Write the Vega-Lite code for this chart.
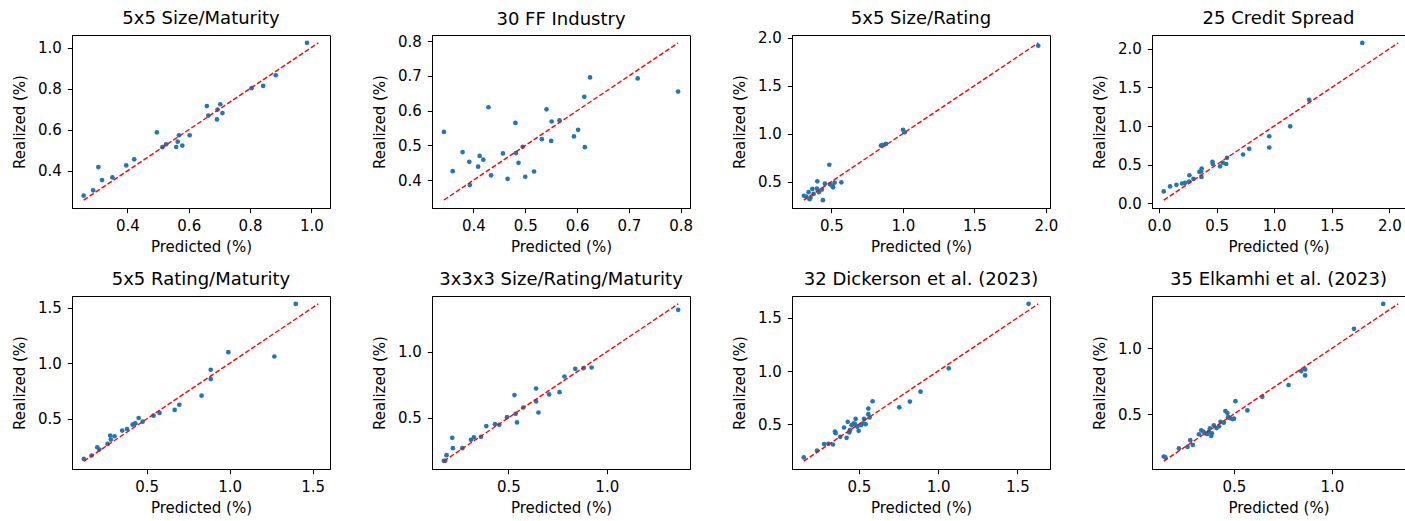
{
  "$schema": "https://vega.github.io/schema/vega-lite/v6.json",
  "background": "white",
  "padding": {"left": 11, "top": 9, "right": 0, "bottom": 0},
  "bounds": "flush",
  "columns": 4,
  "spacing": {"row": 88, "column": 102},
  "config": {
    "font": "DejaVu Sans",
    "view": {"stroke": "black", "strokeWidth": 1},
    "axis": {
      "grid": false,
      "domainColor": "black",
      "domainWidth": 1,
      "tickColor": "black",
      "tickWidth": 1,
      "tickSize": 4.7,
      "labelFont": "DejaVu Sans",
      "labelFontSize": 15,
      "labelColor": "black",
      "titleFont": "DejaVu Sans",
      "titleFontSize": 15,
      "titleFontWeight": "normal",
      "titleColor": "black",
      "format": ".1f"
    },
    "axisX": {"labelPadding": 5.5, "titlePadding": 6},
    "axisY": {"labelPadding": 6, "titlePadding": 10},
    "title": {"font": "DejaVu Sans", "fontSize": 18, "fontWeight": "normal", "color": "black", "offset": 7, "anchor": "middle", "frame": "group"}
  },
  "datasets": {
    "p1": [
      {"pred": 0.257, "real": 0.279}, {"pred": 0.288, "real": 0.305}, {"pred": 0.305, "real": 0.418},
      {"pred": 0.317, "real": 0.355}, {"pred": 0.351, "real": 0.368}, {"pred": 0.396, "real": 0.426},
      {"pred": 0.422, "real": 0.456}, {"pred": 0.496, "real": 0.587}, {"pred": 0.514, "real": 0.515},
      {"pred": 0.526, "real": 0.529}, {"pred": 0.559, "real": 0.516}, {"pred": 0.564, "real": 0.542},
      {"pred": 0.568, "real": 0.573}, {"pred": 0.579, "real": 0.523}, {"pred": 0.603, "real": 0.573},
      {"pred": 0.659, "real": 0.715}, {"pred": 0.664, "real": 0.669}, {"pred": 0.692, "real": 0.650},
      {"pred": 0.694, "real": 0.698}, {"pred": 0.703, "real": 0.724}, {"pred": 0.710, "real": 0.681},
      {"pred": 0.805, "real": 0.802}, {"pred": 0.843, "real": 0.813}, {"pred": 0.884, "real": 0.865},
      {"pred": 0.986, "real": 1.023}
    ],
    "p2": [
      {"pred": 0.343, "real": 0.539}, {"pred": 0.360, "real": 0.426}, {"pred": 0.379, "real": 0.481},
      {"pred": 0.392, "real": 0.453}, {"pred": 0.393, "real": 0.386}, {"pred": 0.409, "real": 0.439},
      {"pred": 0.412, "real": 0.470}, {"pred": 0.419, "real": 0.459}, {"pred": 0.429, "real": 0.610},
      {"pred": 0.434, "real": 0.414}, {"pred": 0.457, "real": 0.477}, {"pred": 0.466, "real": 0.404},
      {"pred": 0.481, "real": 0.565}, {"pred": 0.482, "real": 0.478}, {"pred": 0.487, "real": 0.450},
      {"pred": 0.495, "real": 0.496}, {"pred": 0.500, "real": 0.410}, {"pred": 0.517, "real": 0.425},
      {"pred": 0.532, "real": 0.518}, {"pred": 0.541, "real": 0.604}, {"pred": 0.550, "real": 0.513},
      {"pred": 0.551, "real": 0.569}, {"pred": 0.566, "real": 0.572}, {"pred": 0.594, "real": 0.526},
      {"pred": 0.602, "real": 0.545}, {"pred": 0.614, "real": 0.640}, {"pred": 0.615, "real": 0.495},
      {"pred": 0.625, "real": 0.696}, {"pred": 0.717, "real": 0.693}, {"pred": 0.795, "real": 0.655}
    ],
    "p3": [
      {"pred": 0.308, "real": 0.352}, {"pred": 0.324, "real": 0.345}, {"pred": 0.341, "real": 0.390},
      {"pred": 0.348, "real": 0.317}, {"pred": 0.355, "real": 0.334}, {"pred": 0.367, "real": 0.424},
      {"pred": 0.376, "real": 0.372}, {"pred": 0.399, "real": 0.428}, {"pred": 0.402, "real": 0.503},
      {"pred": 0.413, "real": 0.390}, {"pred": 0.434, "real": 0.417}, {"pred": 0.441, "real": 0.307},
      {"pred": 0.455, "real": 0.479}, {"pred": 0.486, "real": 0.676}, {"pred": 0.491, "real": 0.472},
      {"pred": 0.507, "real": 0.459}, {"pred": 0.512, "real": 0.441}, {"pred": 0.523, "real": 0.490},
      {"pred": 0.570, "real": 0.493}, {"pred": 0.847, "real": 0.876}, {"pred": 0.858, "real": 0.883},
      {"pred": 0.882, "real": 0.893}, {"pred": 1.001, "real": 1.041}, {"pred": 1.013, "real": 1.014},
      {"pred": 1.947, "real": 1.917}
    ],
    "p4": [
      {"pred": 0.041, "real": 0.154}, {"pred": 0.096, "real": 0.218}, {"pred": 0.151, "real": 0.239},
      {"pred": 0.200, "real": 0.256}, {"pred": 0.226, "real": 0.265}, {"pred": 0.261, "real": 0.282},
      {"pred": 0.264, "real": 0.363}, {"pred": 0.299, "real": 0.316}, {"pred": 0.351, "real": 0.406},
      {"pred": 0.368, "real": 0.342}, {"pred": 0.371, "real": 0.449}, {"pred": 0.365, "real": 0.415},
      {"pred": 0.464, "real": 0.538}, {"pred": 0.467, "real": 0.509}, {"pred": 0.530, "real": 0.479},
      {"pred": 0.554, "real": 0.526}, {"pred": 0.583, "real": 0.509}, {"pred": 0.591, "real": 0.590},
      {"pred": 0.730, "real": 0.632}, {"pred": 0.783, "real": 0.705}, {"pred": 0.957, "real": 0.868},
      {"pred": 0.957, "real": 0.722}, {"pred": 1.139, "real": 0.996}, {"pred": 1.304, "real": 1.338},
      {"pred": 1.765, "real": 2.077}
    ],
    "p5": [
      {"pred": 0.122, "real": 0.142}, {"pred": 0.169, "real": 0.172}, {"pred": 0.203, "real": 0.246},
      {"pred": 0.215, "real": 0.225}, {"pred": 0.265, "real": 0.276}, {"pred": 0.281, "real": 0.351},
      {"pred": 0.285, "real": 0.315}, {"pred": 0.307, "real": 0.345}, {"pred": 0.353, "real": 0.396},
      {"pred": 0.382, "real": 0.410}, {"pred": 0.416, "real": 0.449}, {"pred": 0.426, "real": 0.455},
      {"pred": 0.432, "real": 0.461}, {"pred": 0.452, "real": 0.509}, {"pred": 0.476, "real": 0.476},
      {"pred": 0.542, "real": 0.530}, {"pred": 0.578, "real": 0.554}, {"pred": 0.669, "real": 0.581},
      {"pred": 0.697, "real": 0.628}, {"pred": 0.831, "real": 0.709}, {"pred": 0.886, "real": 0.858},
      {"pred": 0.886, "real": 0.942}, {"pred": 0.992, "real": 1.100}, {"pred": 1.269, "real": 1.061},
      {"pred": 1.398, "real": 1.533}
    ],
    "p6": [
      {"pred": 0.172, "real": 0.174}, {"pred": 0.179, "real": 0.174}, {"pred": 0.186, "real": 0.217},
      {"pred": 0.215, "real": 0.348}, {"pred": 0.218, "real": 0.270}, {"pred": 0.266, "real": 0.270},
      {"pred": 0.310, "real": 0.333}, {"pred": 0.325, "real": 0.351}, {"pred": 0.361, "real": 0.356},
      {"pred": 0.388, "real": 0.437}, {"pred": 0.432, "real": 0.452}, {"pred": 0.454, "real": 0.447},
      {"pred": 0.493, "real": 0.505}, {"pred": 0.531, "real": 0.672}, {"pred": 0.537, "real": 0.530},
      {"pred": 0.544, "real": 0.465}, {"pred": 0.576, "real": 0.578}, {"pred": 0.641, "real": 0.722},
      {"pred": 0.641, "real": 0.624}, {"pred": 0.653, "real": 0.540}, {"pred": 0.707, "real": 0.677},
      {"pred": 0.760, "real": 0.694}, {"pred": 0.785, "real": 0.813}, {"pred": 0.840, "real": 0.871},
      {"pred": 0.882, "real": 0.876}, {"pred": 0.923, "real": 0.881}, {"pred": 1.363, "real": 1.318}
    ],
    "p7": [
      {"pred": 0.153, "real": 0.188}, {"pred": 0.237, "real": 0.253}, {"pred": 0.281, "real": 0.313},
      {"pred": 0.308, "real": 0.316}, {"pred": 0.337, "real": 0.309}, {"pred": 0.350, "real": 0.431},
      {"pred": 0.354, "real": 0.416}, {"pred": 0.383, "real": 0.381}, {"pred": 0.407, "real": 0.469},
      {"pred": 0.423, "real": 0.372}, {"pred": 0.430, "real": 0.522}, {"pred": 0.440, "real": 0.422},
      {"pred": 0.444, "real": 0.444}, {"pred": 0.455, "real": 0.491}, {"pred": 0.468, "real": 0.509},
      {"pred": 0.476, "real": 0.500}, {"pred": 0.480, "real": 0.550}, {"pred": 0.491, "real": 0.475},
      {"pred": 0.499, "real": 0.438}, {"pred": 0.514, "real": 0.491}, {"pred": 0.528, "real": 0.509},
      {"pred": 0.533, "real": 0.550}, {"pred": 0.543, "real": 0.500}, {"pred": 0.560, "real": 0.594},
      {"pred": 0.560, "real": 0.647}, {"pred": 0.568, "real": 0.563}, {"pred": 0.587, "real": 0.716},
      {"pred": 0.755, "real": 0.659}, {"pred": 0.822, "real": 0.713}, {"pred": 0.889, "real": 0.806},
      {"pred": 1.067, "real": 1.025}, {"pred": 1.570, "real": 1.631}
    ],
    "p8": [
      {"pred": 0.143, "real": 0.178}, {"pred": 0.151, "real": 0.171}, {"pred": 0.220, "real": 0.239},
      {"pred": 0.264, "real": 0.251}, {"pred": 0.278, "real": 0.302}, {"pred": 0.291, "real": 0.266},
      {"pred": 0.322, "real": 0.347}, {"pred": 0.334, "real": 0.377}, {"pred": 0.344, "real": 0.367},
      {"pred": 0.354, "real": 0.354}, {"pred": 0.364, "real": 0.349}, {"pred": 0.373, "real": 0.367},
      {"pred": 0.378, "real": 0.392}, {"pred": 0.385, "real": 0.334}, {"pred": 0.388, "real": 0.354},
      {"pred": 0.398, "real": 0.415}, {"pred": 0.412, "real": 0.394}, {"pred": 0.425, "real": 0.407},
      {"pred": 0.432, "real": 0.442}, {"pred": 0.449, "real": 0.435}, {"pred": 0.457, "real": 0.523},
      {"pred": 0.467, "real": 0.508}, {"pred": 0.471, "real": 0.477}, {"pred": 0.479, "real": 0.470},
      {"pred": 0.493, "real": 0.462}, {"pred": 0.501, "real": 0.465}, {"pred": 0.508, "real": 0.598},
      {"pred": 0.569, "real": 0.528}, {"pred": 0.645, "real": 0.631}, {"pred": 0.779, "real": 0.721},
      {"pred": 0.843, "real": 0.827}, {"pred": 0.863, "real": 0.839}, {"pred": 0.863, "real": 0.794},
      {"pred": 1.112, "real": 1.148}, {"pred": 1.261, "real": 1.337}
    ],
    "l1": [{"pred": 0.257, "real": 0.257}, {"pred": 1.023, "real": 1.023}],
    "l2": [{"pred": 0.343, "real": 0.343}, {"pred": 0.795, "real": 0.795}],
    "l3": [{"pred": 0.307, "real": 0.307}, {"pred": 1.947, "real": 1.947}],
    "l4": [{"pred": 0.041, "real": 0.041}, {"pred": 2.077, "real": 2.077}],
    "l5": [{"pred": 0.122, "real": 0.122}, {"pred": 1.533, "real": 1.533}],
    "l6": [{"pred": 0.172, "real": 0.172}, {"pred": 1.363, "real": 1.363}],
    "l7": [{"pred": 0.153, "real": 0.153}, {"pred": 1.631, "real": 1.631}],
    "l8": [{"pred": 0.143, "real": 0.143}, {"pred": 1.337, "real": 1.337}]
  },
  "concat": [
    {
      "title": {"text": "5x5 Size/Maturity", "offset": 7}, "width": 258, "height": 173,
      "encoding": {
        "x": {"field": "pred", "type": "quantitative", "title": "Predicted (%)", "scale": {"domain": [0.219, 1.061], "nice": false, "zero": false}, "axis": {"values": [0.4, 0.6, 0.8, 1.0]}},
        "y": {"field": "real", "type": "quantitative", "title": "Realized (%)", "scale": {"domain": [0.219, 1.061], "nice": false, "zero": false}, "axis": {"values": [0.4, 0.6, 0.8, 1.0]}}
      },
      "layer": [
        {"data": {"name": "p1"}, "mark": {"type": "circle", "size": 22, "color": "#1f77b4", "opacity": 1}},
        {"data": {"name": "l1"}, "mark": {"type": "line", "color": "red", "strokeDash": [5, 2.2], "strokeWidth": 1.4}}
      ]
    },
    {
      "title": {"text": "30 FF Industry", "offset": 5.75}, "width": 258, "height": 173,
      "encoding": {
        "x": {"field": "pred", "type": "quantitative", "title": "Predicted (%)", "scale": {"domain": [0.320, 0.818], "nice": false, "zero": false}, "axis": {"values": [0.4, 0.5, 0.6, 0.7, 0.8]}},
        "y": {"field": "real", "type": "quantitative", "title": "Realized (%)", "scale": {"domain": [0.320, 0.818], "nice": false, "zero": false}, "axis": {"values": [0.4, 0.5, 0.6, 0.7, 0.8]}}
      },
      "layer": [
        {"data": {"name": "p2"}, "mark": {"type": "circle", "size": 22, "color": "#1f77b4", "opacity": 1}},
        {"data": {"name": "l2"}, "mark": {"type": "line", "color": "red", "strokeDash": [5, 2.2], "strokeWidth": 1.4}}
      ]
    },
    {
      "title": {"text": "5x5 Size/Rating", "offset": 2.3}, "width": 258, "height": 173,
      "encoding": {
        "x": {"field": "pred", "type": "quantitative", "title": "Predicted (%)", "scale": {"domain": [0.225, 2.029], "nice": false, "zero": false}, "axis": {"values": [0.5, 1.0, 1.5, 2.0]}},
        "y": {"field": "real", "type": "quantitative", "title": "Realized (%)", "scale": {"domain": [0.225, 2.029], "nice": false, "zero": false}, "axis": {"values": [0.5, 1.0, 1.5, 2.0]}}
      },
      "layer": [
        {"data": {"name": "p3"}, "mark": {"type": "circle", "size": 22, "color": "#1f77b4", "opacity": 1}},
        {"data": {"name": "l3"}, "mark": {"type": "line", "color": "red", "strokeDash": [5, 2.2], "strokeWidth": 1.4}}
      ]
    },
    {
      "title": {"text": "25 Credit Spread", "offset": 7}, "width": 253, "height": 173,
      "encoding": {
        "x": {"field": "pred", "type": "quantitative", "title": "Predicted (%)", "scale": {"domain": [-0.061, 2.136], "nice": false, "zero": false}, "axis": {"values": [0.0, 0.5, 1.0, 1.5, 2.0]}},
        "y": {"field": "real", "type": "quantitative", "title": "Realized (%)", "scale": {"domain": [-0.061, 2.179], "nice": false, "zero": false}, "axis": {"values": [0.0, 0.5, 1.0, 1.5, 2.0]}}
      },
      "layer": [
        {"data": {"name": "p4"}, "mark": {"type": "circle", "size": 22, "color": "#1f77b4", "opacity": 1}},
        {"data": {"name": "l4"}, "mark": {"type": "line", "color": "red", "strokeDash": [5, 2.2], "strokeWidth": 1.4}}
      ]
    },
    {
      "title": {"text": "5x5 Rating/Maturity", "offset": 7}, "width": 258, "height": 173,
      "encoding": {
        "x": {"field": "pred", "type": "quantitative", "title": "Predicted (%)", "scale": {"domain": [0.051, 1.604], "nice": false, "zero": false}, "axis": {"values": [0.5, 1.0, 1.5]}},
        "y": {"field": "real", "type": "quantitative", "title": "Realized (%)", "scale": {"domain": [0.051, 1.604], "nice": false, "zero": false}, "axis": {"values": [0.5, 1.0, 1.5]}}
      },
      "layer": [
        {"data": {"name": "p5"}, "mark": {"type": "circle", "size": 22, "color": "#1f77b4", "opacity": 1}},
        {"data": {"name": "l5"}, "mark": {"type": "line", "color": "red", "strokeDash": [5, 2.2], "strokeWidth": 1.4}}
      ]
    },
    {
      "title": {"text": "3x3x3 Size/Rating/Maturity", "offset": 7}, "width": 258, "height": 173,
      "encoding": {
        "x": {"field": "pred", "type": "quantitative", "title": "Predicted (%)", "scale": {"domain": [0.112, 1.423], "nice": false, "zero": false}, "axis": {"values": [0.5, 1.0]}},
        "y": {"field": "real", "type": "quantitative", "title": "Realized (%)", "scale": {"domain": [0.112, 1.423], "nice": false, "zero": false}, "axis": {"values": [0.5, 1.0]}}
      },
      "layer": [
        {"data": {"name": "p6"}, "mark": {"type": "circle", "size": 22, "color": "#1f77b4", "opacity": 1}},
        {"data": {"name": "l6"}, "mark": {"type": "line", "color": "red", "strokeDash": [5, 2.2], "strokeWidth": 1.4}}
      ]
    },
    {
      "title": {"text": "32 Dickerson et al. (2023)", "offset": 7}, "width": 258, "height": 173,
      "encoding": {
        "x": {"field": "pred", "type": "quantitative", "title": "Predicted (%)", "scale": {"domain": [0.079, 1.705], "nice": false, "zero": false}, "axis": {"values": [0.5, 1.0, 1.5]}},
        "y": {"field": "real", "type": "quantitative", "title": "Realized (%)", "scale": {"domain": [0.079, 1.705], "nice": false, "zero": false}, "axis": {"values": [0.5, 1.0, 1.5]}}
      },
      "layer": [
        {"data": {"name": "p7"}, "mark": {"type": "circle", "size": 22, "color": "#1f77b4", "opacity": 1}},
        {"data": {"name": "l7"}, "mark": {"type": "line", "color": "red", "strokeDash": [5, 2.2], "strokeWidth": 1.4}}
      ]
    },
    {
      "title": {"text": "35 Elkamhi et al. (2023)", "offset": 7}, "width": 253, "height": 173,
      "encoding": {
        "x": {"field": "pred", "type": "quantitative", "title": "Predicted (%)", "scale": {"domain": [0.083, 1.372], "nice": false, "zero": false}, "axis": {"values": [0.5, 1.0]}},
        "y": {"field": "real", "type": "quantitative", "title": "Realized (%)", "scale": {"domain": [0.083, 1.397], "nice": false, "zero": false}, "axis": {"values": [0.5, 1.0]}}
      },
      "layer": [
        {"data": {"name": "p8"}, "mark": {"type": "circle", "size": 22, "color": "#1f77b4", "opacity": 1}},
        {"data": {"name": "l8"}, "mark": {"type": "line", "color": "red", "strokeDash": [5, 2.2], "strokeWidth": 1.4}}
      ]
    }
  ]
}
